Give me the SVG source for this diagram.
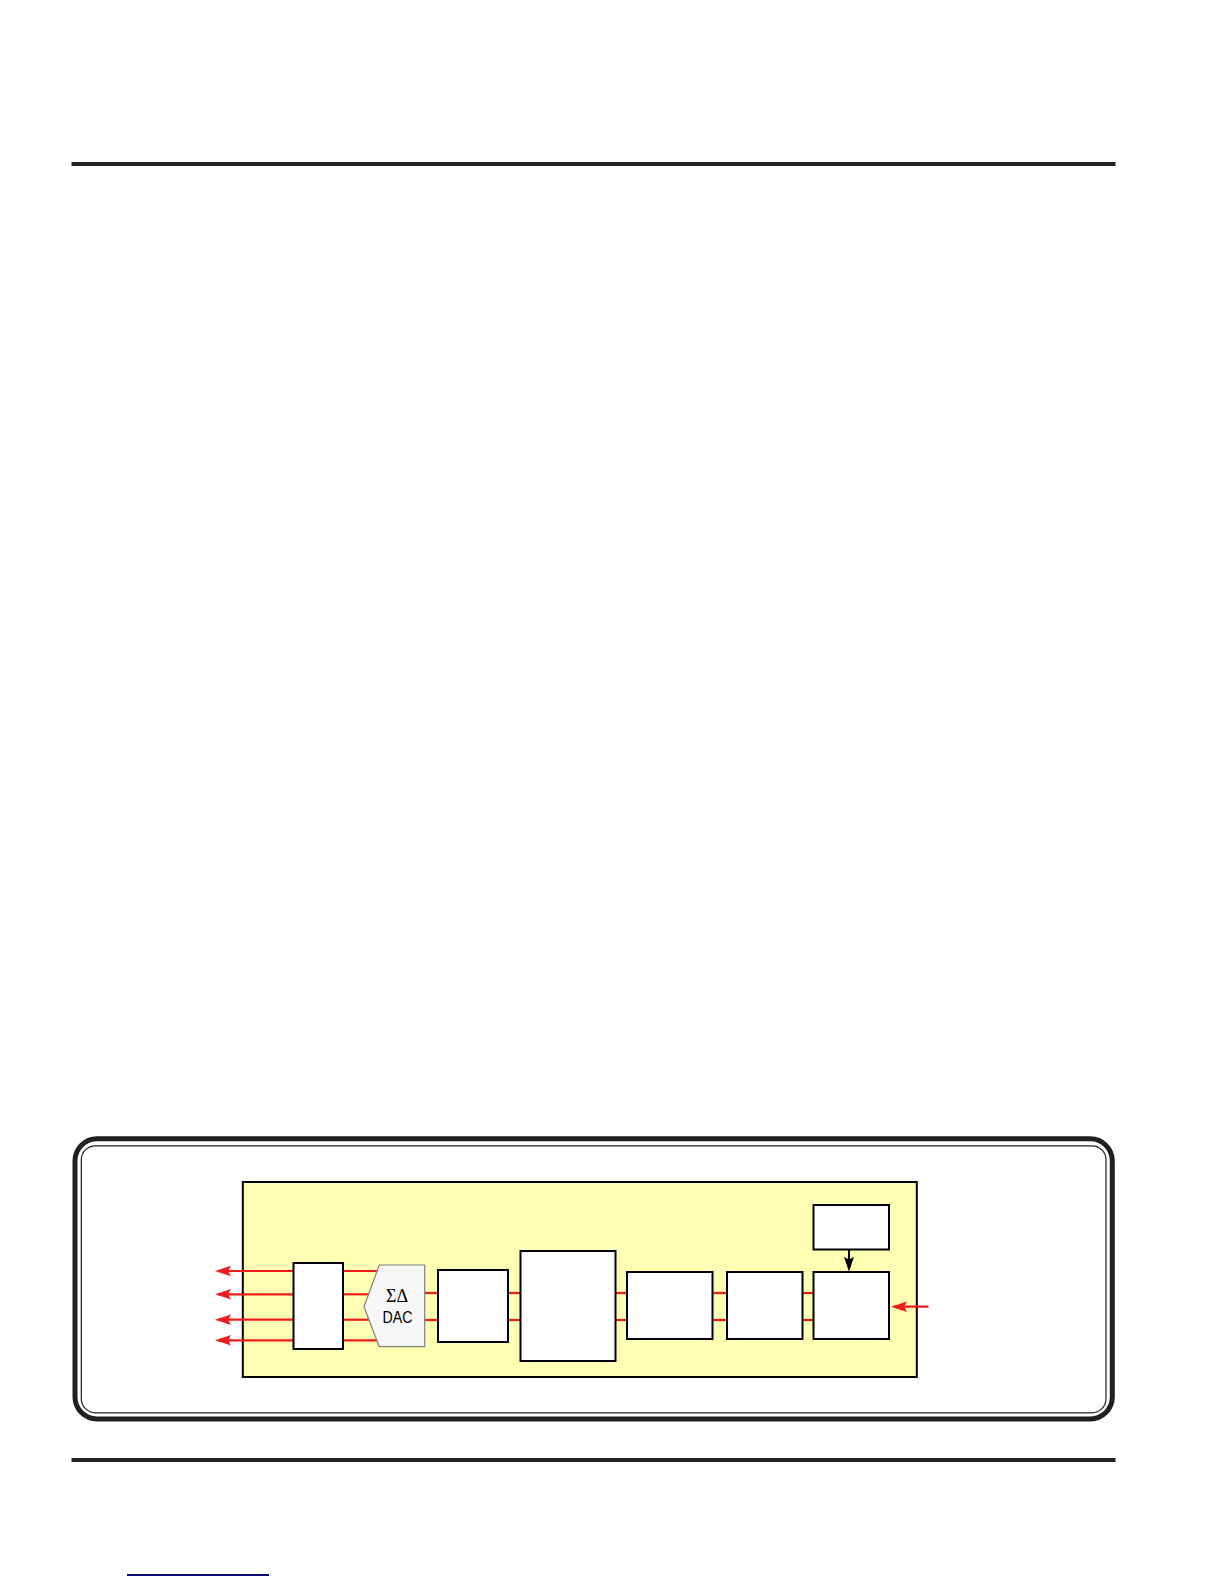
<svg xmlns="http://www.w3.org/2000/svg" width="1224" height="1584" viewBox="0 0 1224 1584">
  <style>
    .rule { stroke: #231f20; stroke-width: 4; }
    .box { fill: #ffffff; stroke: #000000; stroke-width: 2; }
    .red { stroke: #ee1c1c; stroke-width: 2.2; fill: none; }
    .blk { stroke: #000000; stroke-width: 2; fill: none; }
    .lbl { font-family: "Liberation Sans", Arial, sans-serif; font-size: 17px; fill: #000; text-anchor: middle; }
    .sym { font-family: "Liberation Serif", "Times New Roman", serif; font-size: 18px; fill: #000; text-anchor: middle; }
  </style>
  <defs>
    <marker id="redArrow" viewBox="-14 -6 18 12" refX="0" refY="0" markerWidth="18" markerHeight="12" markerUnits="userSpaceOnUse" orient="auto">
      <path d="M3,0 L-13,-5.2 L-10,0 L-13,5.2 Z" fill="#ee1c1c"/>
    </marker>
    <marker id="blkArrow" viewBox="-14 -6 18 12" refX="0" refY="0" markerWidth="18" markerHeight="12" markerUnits="userSpaceOnUse" orient="auto">
      <path d="M3,0 L-12,-5 L-9,0 L-12,5 Z" fill="#000000"/>
    </marker>
  </defs>
  <rect width="1224" height="1584" fill="#ffffff"/>

  <!-- page rules -->
  <line class="rule" x1="71.5" y1="164" x2="1115.5" y2="164"/>
  <line class="rule" x1="71.5" y1="1460" x2="1115.5" y2="1460"/>
  <line x1="127" y1="1575" x2="269" y2="1575" stroke="#0c0c70" stroke-width="1.8"/>

  <!-- frame -->
  <g id="frame">
    <rect x="75" y="1138.7" width="1037.3" height="280.3" rx="22" ry="22" fill="#ffffff" stroke="#231f20" stroke-width="5"/>
    <rect x="81.3" y="1145.8" width="1024.7" height="267" rx="14" ry="14" fill="none" stroke="#231f20" stroke-width="1.2"/>
  </g>

  <!-- container -->
  <g id="container">
    <rect x="242.8" y="1182" width="674" height="195" fill="#ffffb3" stroke="#000000" stroke-width="2"/>
  </g>

  <!-- connectors -->
  <g id="connectors">
    <line class="red" x1="293.5" y1="1271" x2="218" y2="1271" marker-end="url(#redArrow)"/>
    <line class="red" x1="293.5" y1="1294.3" x2="218" y2="1294.3" marker-end="url(#redArrow)"/>
    <line class="red" x1="293.5" y1="1319.7" x2="218" y2="1319.7" marker-end="url(#redArrow)"/>
    <line class="red" x1="293.5" y1="1340.3" x2="218" y2="1340.3" marker-end="url(#redArrow)"/>

    <line class="red" x1="343" y1="1271" x2="377.5" y2="1271"/>
    <line class="red" x1="343" y1="1294.3" x2="369" y2="1294.3"/>
    <line class="red" x1="343" y1="1319.7" x2="369.5" y2="1319.7"/>
    <line class="red" x1="343" y1="1340.3" x2="377.5" y2="1340.3"/>

    <line class="red" x1="424.7" y1="1293" x2="438" y2="1293"/>
    <line class="red" x1="424.7" y1="1320" x2="438" y2="1320"/>
    <line class="red" x1="508" y1="1293" x2="520.5" y2="1293"/>
    <line class="red" x1="508" y1="1320" x2="520.5" y2="1320"/>
    <line class="red" x1="615.5" y1="1293" x2="627" y2="1293"/>
    <line class="red" x1="615.5" y1="1320" x2="627" y2="1320"/>
    <line class="red" x1="712.5" y1="1293" x2="727" y2="1293"/>
    <line class="red" x1="712.5" y1="1320" x2="727" y2="1320"/>
    <line class="red" x1="802.5" y1="1293" x2="813.5" y2="1293"/>
    <line class="red" x1="802.5" y1="1320" x2="813.5" y2="1320"/>

    <line class="red" x1="928.5" y1="1306.7" x2="894" y2="1306.7" marker-end="url(#redArrow)"/>

    <line class="blk" x1="849" y1="1249.5" x2="849" y2="1268.7" marker-end="url(#blkArrow)"/>
  </g>

  <!-- nodes -->
  <g id="node-out-buffer">
    <rect class="box" x="293.5" y="1263" width="49.5" height="86"/>
  </g>
  <g id="node-dac">
    <polygon points="379.3,1265 424.7,1265 424.7,1346.7 379.3,1346.7 364,1306.7" fill="#f7f7f7" stroke="#808080" stroke-width="1.2" stroke-linejoin="round"/>
    <text class="sym" x="397" y="1302">ΣΔ</text>
    <text class="lbl" x="397.5" y="1323" textLength="30" lengthAdjust="spacingAndGlyphs">DAC</text>
  </g>
  <g id="node-3">
    <rect class="box" x="438" y="1270" width="70" height="72"/>
  </g>
  <g id="node-4">
    <rect class="box" x="520.5" y="1251" width="95" height="110"/>
  </g>
  <g id="node-5">
    <rect class="box" x="627" y="1272" width="85.5" height="67"/>
  </g>
  <g id="node-6">
    <rect class="box" x="727" y="1272" width="75.5" height="67"/>
  </g>
  <g id="node-7">
    <rect class="box" x="813.5" y="1272" width="75.5" height="67"/>
  </g>
  <g id="node-8">
    <rect class="box" x="813.5" y="1205" width="75.5" height="44.5"/>
  </g>
</svg>
